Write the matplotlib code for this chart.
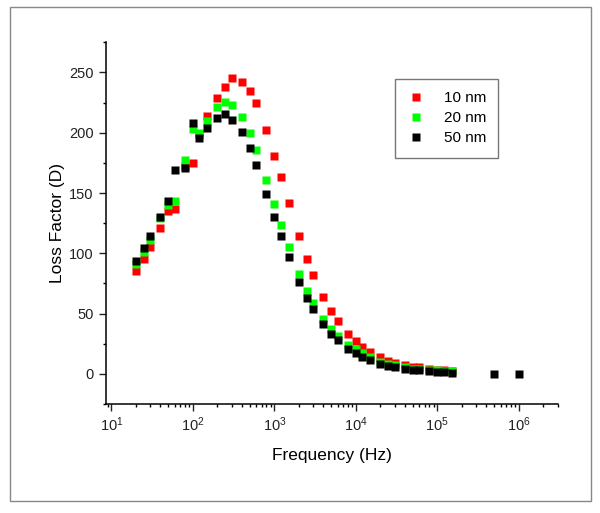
import matplotlib
matplotlib.use('Agg')
import matplotlib.pyplot as plt
from matplotlib.patches import Rectangle
from matplotlib.ticker import LogLocator, MultipleLocator, NullFormatter

plt.rcParams['font.family'] = ['Liberation Sans', 'DejaVu Sans']

# frequency points (Hz)
freq = [20, 25, 30, 40, 50, 60, 80, 100, 120, 150, 200, 250, 300, 400, 500, 600,
        800, 1e3, 1.2e3, 1.5e3, 2e3, 2.5e3, 3e3, 4e3, 5e3, 6e3, 8e3, 1e4, 1.2e4,
        1.5e4, 2e4, 2.5e4, 3e4, 4e4, 5e4, 6e4, 8e4, 1e5, 1.2e5, 1.5e5]
freq_50 = freq + [5e5, 1e6]

loss_10 = [85, 95.5, 105.5, 121, 135.4, 136.8, 172, 175.2, 199, 214, 229, 238, 245,
           242, 235, 225, 202.6, 181, 163, 141.5, 114, 95.5, 82, 63.7, 51.8, 43.7,
           33.2, 26.9, 22.4, 18, 13.8, 11, 9.1, 7.5, 6, 5.3, 4.2, 3.6, 3, 2.2]
loss_20 = [91, 101, 111, 129, 140, 143.4, 177, 203, 200, 210, 221.5, 225.4, 222.6,
           213, 200, 185.5, 160.6, 140.6, 123.5, 105.5, 83, 68.7, 58.7, 45.7, 37.4,
           31, 24, 20.2, 17.2, 13.8, 10.2, 8.3, 7, 5.5, 4.4, 3.9, 3, 2.8, 2.5, 2]
loss_50 = [93.6, 104.7, 114.6, 130, 143, 169, 170.8, 208, 196, 203.8, 212.6, 215.7,
           210.4, 201, 187.4, 173.6, 149.5, 130, 114.6, 96.6, 76, 63, 53.4, 41, 33.2,
           27.7, 21, 17.2, 14.1, 11.4, 8.3, 6.6, 5.5, 4.2, 3.3, 2.8, 2.2, 1.9, 1.7,
           1.1, 0, 0]

fig = plt.figure(figsize=(6.0, 5.13), dpi=100)
ax = fig.add_axes([0.176, 0.2125, 0.7535, 0.705])

ms = 5.4
ax.plot(freq, loss_10, 's', color='#FF0000', ms=ms, mec='none', label='10 nm')
ax.plot(freq, loss_20, 's', color='#00FF00', ms=ms, mec='none', label='20 nm')
ax.plot(freq_50, loss_50, 's', color='black', ms=ms, mec='none', label='50 nm')

ax.set_xscale('log')
ax.set_xlim(8.5, 3e6)
ax.set_ylim(-25, 275)

ax.spines['top'].set_visible(False)
ax.spines['right'].set_visible(False)
for s in ['left', 'bottom']:
    ax.spines[s].set_linewidth(1.1)

ax.yaxis.set_minor_locator(MultipleLocator(25))
ax.set_yticks([0, 50, 100, 150, 200, 250])
ax.xaxis.set_minor_locator(LogLocator(base=10, subs=range(2, 10), numticks=20))
ax.xaxis.set_minor_formatter(NullFormatter())
ax.set_xticks([10, 1e2, 1e3, 1e4, 1e5, 1e6])
ax.tick_params(which='major', direction='out', length=5, width=1.0, labelsize=10.5, colors='#222222')
ax.tick_params(which='minor', direction='out', length=2.5, width=1.0)

ax.set_xlabel('Frequency (Hz)', fontsize=12.5, labelpad=10)
ax.set_ylabel('Loss Factor (D)', fontsize=12.5, labelpad=3)

leg = ax.legend(loc='upper left', bbox_to_anchor=(0.623, 0.92), fontsize=11,
                frameon=True, fancybox=False, borderpad=0.8, handletextpad=1.2,
                labelspacing=0.4, handlelength=1.2, markerscale=1.0)
leg.get_frame().set_edgecolor('#555555')
leg.get_frame().set_linewidth(1.0)

fig.patches.append(Rectangle((10 / 600, 1 - 501 / 513), 581 / 600, 494 / 513,
                             transform=fig.transFigure, fill=False,
                             edgecolor='#888888', linewidth=1.0))

fig.savefig('out.png', dpi=100)
